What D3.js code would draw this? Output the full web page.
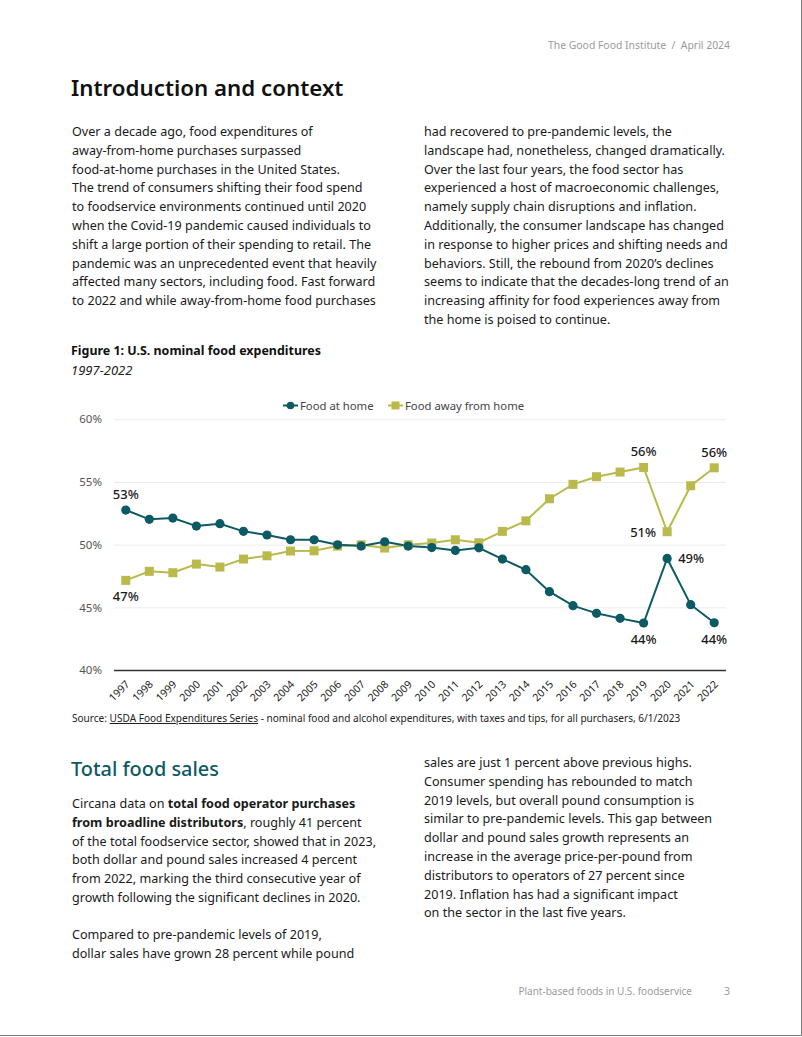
<!DOCTYPE html>
<html><head><meta charset="utf-8">
<script src="https://cdn.jsdelivr.net/npm/d3@7"></script>
<style>
html,body{margin:0;padding:0;background:#fff;}
svg{display:block;}
</style></head>
<body>
<script>
const years = ["1997","1998","1999","2000","2001","2002","2003","2004","2005","2006","2007","2008","2009","2010","2011","2012","2013","2014","2015","2016","2017","2018","2019","2020","2021","2022"];
const foodAtHome = [52.76,52.02,52.12,51.48,51.67,51.06,50.77,50.39,50.39,49.99,49.89,50.23,49.89,49.77,49.54,49.75,48.85,48.0,46.25,45.13,44.52,44.12,43.75,48.9,45.21,43.77];
const foodAway = [47.15,47.87,47.76,48.45,48.21,48.85,49.11,49.49,49.51,49.89,49.99,49.73,49.99,50.13,50.39,50.15,51.06,51.9,53.66,54.81,55.42,55.79,56.16,51.03,54.7,56.13];
const yTicks = [40,45,50,55,60];
const seriesNames = ["Food at home","Food away from home"];
// labels: [series, year, text, position]
const dataLabels = [
  ["home","1997","53%","above"],["away","1997","47%","below"],
  ["away","2019","56%","above"],["away","2022","56%","above"],
  ["away","2020","51%","left"],["home","2020","49%","right"],
  ["home","2019","44%","below"],["home","2022","44%","below"]
];

const W=802,H=1037;
const svg=d3.select("body").append("svg").attr("width",W).attr("height",H);
const FONT="'Noto Sans', 'Open Sans', sans-serif";
const txt="#1a1a1a";

// page border
svg.append("line").attr("x1",801.5).attr("x2",801.5).attr("y1",0).attr("y2",1035.5).attr("stroke","#7a7a7a").attr("stroke-width",1);
svg.append("line").attr("x1",0).attr("x2",801.5).attr("y1",1035.5).attr("y2",1035.5).attr("stroke","#7a7a7a").attr("stroke-width",1);

// header
svg.append("text").attr("x",730).attr("y",49).attr("text-anchor","end").attr("font-family",FONT).attr("font-size",10.4).attr("fill","#9a9a9a")
  .attr("xml:space","preserve").text("The Good Food Institute  /  April 2024");

svg.append("text").attr("x",71).attr("y",96).attr("font-family",FONT).attr("font-size",22.3).attr("font-weight",600).attr("fill","#111")
  .text("Introduction and context");

function para(x,y,lines,lh,size){
  const g=svg.append("g");
  lines.forEach((l,i)=>{
    const t=g.append("text").attr("x",x).attr("y",y+i*lh).attr("font-family",FONT).attr("font-size",size).attr("fill",txt);
    if(Array.isArray(l)){
      l.forEach(seg=>t.append("tspan").attr("font-weight",seg[1]?700:400).text(seg[0]));
    } else t.text(l);
  });
}
const BS=12.6, LH=18.8;
para(72,136,[
"Over a decade ago, food expenditures of",
"away-from-home purchases surpassed",
"food-at-home purchases in the United States.",
"The trend of consumers shifting their food spend",
"to foodservice environments continued until 2020",
"when the Covid-19 pandemic caused individuals to",
"shift a large portion of their spending to retail. The",
"pandemic was an unprecedented event that heavily",
"affected many sectors, including food. Fast forward",
"to 2022 and while away-from-home food purchases"],LH,BS);
para(424,136,[
"had recovered to pre-pandemic levels, the",
"landscape had, nonetheless, changed dramatically.",
"Over the last four years, the food sector has",
"experienced a host of macroeconomic challenges,",
"namely supply chain disruptions and inflation.",
"Additionally, the consumer landscape has changed",
"in response to higher prices and shifting needs and",
"behaviors. Still, the rebound from 2020’s declines",
"seems to indicate that the decades-long trend of an",
"increasing affinity for food experiences away from",
"the home is poised to continue."],LH,BS);

// figure title
svg.append("text").attr("x",71).attr("y",355).attr("font-family",FONT).attr("font-size",12.45).attr("font-weight",700).attr("fill","#111").text("Figure 1: U.S. nominal food expenditures");
svg.append("text").attr("x",71).attr("y",375).attr("font-family",FONT).attr("font-size",13).attr("font-style","italic").attr("fill","#222").text("1997-2022");

// chart
const cHome="#0b5a64", cAway="#b9b94c";
const x=d3.scalePoint().domain(years).range([114,726]).padding(0.5);
const y=d3.scaleLinear().domain([40,60]).range([670,419.3]);

const gy=svg.append("g").attr("transform","translate(114,0)")
  .call(d3.axisLeft(y).tickValues(yTicks).tickSize(-612).tickFormat(d=>d+"%"));
gy.select(".domain").remove();
gy.selectAll(".tick line").attr("stroke","#ececec").attr("stroke-width",1);
gy.selectAll(".tick text").attr("x",-12).attr("font-family",FONT).attr("font-size",11.5).attr("fill","#555");
gy.selectAll(".tick").filter(d=>d===40).select("line").remove();

const gx=svg.append("g").attr("transform","translate(0,670)").call(d3.axisBottom(x).tickSize(0).tickPadding(0));
gx.select(".domain").attr("d","M114,0.5H726").attr("stroke","#333").attr("stroke-width",1.6);
gx.selectAll(".tick text").attr("font-family",FONT).attr("font-size",10.5).attr("fill","#222")
  .attr("text-anchor","end").attr("dy","0").attr("y",0)
  .attr("transform","translate(4,15) rotate(-45)");

const line=d3.line().x((d,i)=>x(years[i])).y(d=>y(d));
svg.append("path").datum(foodAway).attr("d",line).attr("fill","none").attr("stroke",cAway).attr("stroke-width",2);
svg.append("path").datum(foodAtHome).attr("d",line).attr("fill","none").attr("stroke",cHome).attr("stroke-width",2);
svg.append("g").selectAll("rect").data(foodAway).join("rect")
  .attr("x",(d,i)=>x(years[i])-4.5).attr("y",d=>y(d)-4.5).attr("width",9).attr("height",9).attr("fill",cAway);
svg.append("g").selectAll("circle").data(foodAtHome).join("circle")
  .attr("cx",(d,i)=>x(years[i])).attr("cy",d=>y(d)).attr("r",4.6).attr("fill",cHome);

// data labels
dataLabels.forEach(([s,yr,t,pos])=>{
  const v=(s==="home"?foodAtHome:foodAway)[years.indexOf(yr)];
  let px=x(yr), py=y(v), anchor="middle";
  if(pos==="above") py-=11;
  if(pos==="below") py+=21;
  if(pos==="left"){px-=11;py+=5;anchor="end";}
  if(pos==="right"){px+=11;py+=5;anchor="start";}
  svg.append("text").attr("x",px).attr("y",py).attr("text-anchor",anchor).attr("font-family",FONT).attr("font-size",13).attr("font-weight",500).attr("fill","#1a1a1a").text(t);
});

// legend
const lg=svg.append("g");
const legendItems=[{n:seriesNames[0],c:cHome,sh:"c",x:283},{n:seriesNames[1],c:cAway,sh:"s",x:388}];
legendItems.forEach(it=>{
  lg.append("line").attr("x1",it.x).attr("x2",it.x+15).attr("y1",405.5).attr("y2",405.5).attr("stroke",it.c).attr("stroke-width",2);
  if(it.sh==="c") lg.append("circle").attr("cx",it.x+7.5).attr("cy",405.5).attr("r",3.8).attr("fill",it.c);
  else lg.append("rect").attr("x",it.x+3.5).attr("y",401.5).attr("width",8).attr("height",8).attr("fill",it.c);
  lg.append("text").attr("x",it.x+17).attr("y",409.5).attr("font-family",FONT).attr("font-size",11.3).attr("fill","#444").text(it.n);
});

// source
const src=svg.append("text").attr("x",72).attr("y",722).attr("font-family",FONT).attr("font-size",10.07).attr("fill","#222");
src.append("tspan").text("Source: ");
src.append("tspan").attr("text-decoration","underline").text("USDA Food Expenditures Series");
src.append("tspan").text(" - nominal food and alcohol expenditures, with taxes and tips, for all purchasers, 6/1/2023");

// section 2
svg.append("text").attr("x",71).attr("y",776).attr("font-family",FONT).attr("font-size",19.9).attr("font-weight",500).attr("fill","#0d5a63").text("Total food sales");
para(72,808,[
[["Circana data on ",0],["total food operator purchases",1]],
[["from broadline distributors",1],[", roughly 41 percent",0]],
"of the total foodservice sector, showed that in 2023,",
"both dollar and pound sales increased 4 percent",
"from 2022, marking the third consecutive year of",
"growth following the significant declines in 2020."],LH,BS);
para(72,939,[
"Compared to pre-pandemic levels of 2019,",
"dollar sales have grown 28 percent while pound"],LH,BS);
para(424,767,[
"sales are just 1 percent above previous highs.",
"Consumer spending has rebounded to match",
"2019 levels, but overall pound consumption is",
"similar to pre-pandemic levels. This gap between",
"dollar and pound sales growth represents an",
"increase in the average price-per-pound from",
"distributors to operators of 27 percent since",
"2019. Inflation has had a significant impact",
"on the sector in the last five years."],LH,BS);

// footer
svg.append("text").attr("x",692).attr("y",995).attr("text-anchor","end").attr("font-family",FONT).attr("font-size",10).attr("fill","#9a9a9a").text("Plant-based foods in U.S. foodservice");
svg.append("text").attr("x",730).attr("y",995).attr("text-anchor","end").attr("font-family",FONT).attr("font-size",10.5).attr("fill","#9a9a9a").text("3");
</script>
</body></html>
